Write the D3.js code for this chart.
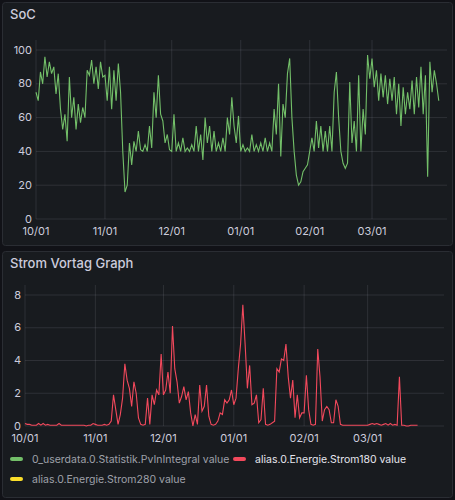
<!DOCTYPE html>
<html><head><meta charset="utf-8">
<script src="https://cdn.jsdelivr.net/npm/d3@7"></script>
<style>body{margin:0;background:#111217;}svg{display:block;font-family:Inter,"Noto Sans",sans-serif;}</style>
</head><body><svg id="c" width="455" height="500"></svg>
<script>
const socOct=[75,70,87,80,96,84,93,86,90,74,86,65,53,62,46,84,60,72,53,68,57,66,60,88,85,94,80,90,77,93,84];
const socNov=[85,70,90,65,88,70,92,75,40,16,20,45,32,46,40,52,41,40,44,40,55,42,75,60,85,62,58,45,50,41];
const socDec=[40,62,40,45,40,48,40,42,40,44,40,55,40,50,35,60,45,55,40,52,40,45,40,48,40,60,50,72,55,45,61];
const socJan=[40,44,40,42,40,50,40,44,40,45,40,48,40,45,40,65,50,80,37,68,60,86,95,60,40,26,20,22,28,30,32];
const socFeb=[40,48,40,58,42,55,40,52,40,55,40,75,87,60,40,33,30,33,81,45,58,40,85,40,65,50,97,83];
const socMar=[95,78,88,70,86,72,85,68,83,70,84,62,80,55,78,62,75,65,82,62,84,66,90,62,85,25,93,75,88,80,70];
const strom=[0.15,0.1,0.1,0.05,0.05,0.05,0.15,0.05,0.15,0.05,0.1,0.05,0.05,0.05,0.05,0.15,0.05,0.05,0.05,0.05,0.05,0.05,0.05,0.05,0.05,0.05,0.05,0.0,0.05,0.05,0.15,
 0.1,0.05,0.05,0.05,0.1,0.05,0.1,0.3,1.9,1.0,0.1,0.7,1.7,3.8,2.8,2.3,1.2,2.7,2.0,0.5,0.1,0.05,0.1,1.7,0.1,1.9,1.3,2.2,1.9,
 4.4,1.9,2.2,3.3,2.0,6.1,3.5,2.7,1.4,1.8,2.4,1.6,2.1,0.8,0,0.7,0.1,2.5,0.9,1.2,2.5,0.6,0.1,0.05,0.1,0.3,0.8,0.7,1.6,1.4,1.6,
 2.2,1.3,1.7,3.5,5.0,7.4,5.0,2.3,3.7,1.3,1.4,1.9,0.2,0.4,2.3,0.1,0.05,0.1,0.2,0.3,3.5,3.3,4.1,4.0,5.0,3.0,1.7,2.8,0.5,1.9,0.5,
 0.8,0.8,3.1,1.0,0.1,0.05,0.1,4.7,3.0,0.3,1.0,1.2,1.0,0.2,0.2,1.6,1.2,0.1,0.05,0.05,0.05,0.05,0.05,0.05,0.05,0.05,0.05,
 0.05,0.05,0.05,0.1,0.15,0.1,0.15,0.1,0.05,0.1,0.15,0.05,0.15,0.05,0.1,0.05,3.0,0.05,0.05,0,0,0.05,0.05,0.05,0.05];
const xTicks=["10/01","11/01","12/01","01/01","02/01","03/01"];
const socTicks=[0,20,40,60,80,100];
const stromTicks=[0,2,4,6,8];
const legend=[["0_userdata.0.Statistik.PvInIntegral value","#73bf69"],["alias.0.Energie.Strom180 value","#f2495c"],["alias.0.Energie.Strom280 value","#fade2a"]];

const soc=[].concat(socOct,socNov,socDec,socJan,socFeb,socMar);
const t0=new Date(2022,9,1);
const day=i=>new Date(2022,9,1+i);
const tickDates=[0,1,2,3,4,5].map(m=>new Date(2022,9+m,1));
const svg=d3.select("#c");
const txt="#ccccdc", grid="rgba(204,204,220,0.12)";

function panel(y0,h,title){
  svg.append("rect").attr("x",2.5).attr("y",y0+0.5).attr("width",450).attr("height",h).attr("rx",3)
    .attr("fill","#181b1f").attr("stroke","#2a2d33");
  svg.append("text").attr("x",10).attr("y",y0+17).attr("fill",txt).attr("font-size",13).attr("font-weight",500).text(title);
}
function chart(data,x0,x1,yTop,yBot,domain,ticks,color){
  const x=d3.scaleTime().domain([t0,day(182)]).range([x0,x1]);
  const y=d3.scaleLinear().domain(domain).range([yBot,yTop]);
  const g=svg.append("g");
  g.append("g").selectAll("line").data(ticks).join("line").attr("x1",x0).attr("x2",x1+6)
    .attr("y1",d=>y(d)).attr("y2",d=>y(d)).attr("stroke",grid);
  g.append("g").selectAll("line").data(tickDates).join("line").attr("x1",d=>x(d)).attr("x2",d=>x(d))
    .attr("y1",yTop-10).attr("y2",yBot).attr("stroke",grid);
  g.append("g").selectAll("text").data(ticks).join("text").attr("x",x0-4).attr("y",d=>y(d)+3.5)
    .attr("text-anchor","end").attr("fill",txt).attr("font-size",11).text(d=>d);
  g.append("g").selectAll("text").data(tickDates).join("text").attr("x",d=>x(d)).attr("y",yBot+16)
    .attr("text-anchor","middle").attr("fill",txt).attr("font-size",11).text((d,i)=>xTicks[i]);
  g.append("path").datum(data).attr("fill","none").attr("stroke",color).attr("stroke-width",1.1)
    .attr("d",d3.line().x((d,i)=>x(day(i))).y(d=>y(d)));
}
panel(2,243,"SoC");
chart(soc,36,441,50,219,[0,100],socTicks,"#73bf69");
panel(251,246,"Strom Vortag Graph");
chart(strom,25,438,295,426,[0,8],stromTicks,"#f2495c");

const lg=svg.append("g");
const pos=[[10,459],[233,459],[10,479]];
legend.forEach((l,i)=>{
  lg.append("rect").attr("x",pos[i][0]).attr("y",pos[i][1]-2).attr("width",13).attr("height",4).attr("rx",2).attr("fill",l[1]);
  lg.append("text").attr("x",pos[i][0]+22).attr("y",pos[i][1]+4).attr("font-size",10.5)
    .attr("fill",i==1?"#e6e6ee":"#9fa1aa").text(l[0]);
});
</script></body></html>
